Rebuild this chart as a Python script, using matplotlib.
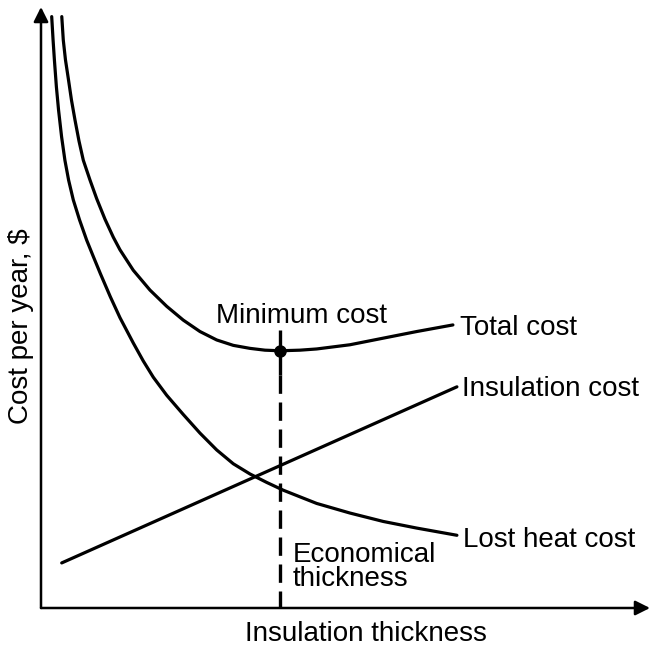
import matplotlib
matplotlib.use("Agg")
import matplotlib.pyplot as plt

plt.rcParams["font.family"] = ["Liberation Sans", "DejaVu Sans"]

# Insulation thickness and cost per year, arbitrary units
lost_heat_x = [1.71, 1.93, 2.14, 2.46, 2.80, 3.29, 3.82, 4.41, 5.16, 6.15, 7.30, 8.35, 9.50,
               11.07, 12.62, 14.74, 16.34, 17.94, 20.08, 22.73, 25.40, 28.07, 30.72, 33.39,
               36.05, 38.71, 41.37, 44.04, 49.36, 54.68, 60.02, 66.45]
lost_heat_y = [98.4, 94.5, 91.2, 86.7, 82.9, 78.4, 74.5, 71.2, 67.9, 64.6, 61.2, 58.5, 55.6,
               51.8, 48.3, 44.1, 41.1, 38.4, 35.4, 32.2, 29.1, 26.3, 24.0, 22.3, 20.9, 19.6,
               18.5, 17.4, 15.8, 14.4, 13.3, 12.1]

total_x = [3.32, 3.56, 3.91, 4.39, 4.87, 5.43, 6.07, 6.76, 7.83, 8.90, 10.22, 11.55, 12.62,
           14.74, 17.41, 20.08, 22.73, 25.40, 28.07, 30.72, 33.39, 35.78, 38.18, 41.37,
           44.04, 49.36, 54.68, 60.02, 65.81]
total_y = [98.4, 94.5, 91.2, 87.9, 84.5, 81.2, 77.7, 74.5, 71.2, 68.1, 64.7, 61.7, 59.6,
           56.2, 52.9, 50.2, 47.9, 46.0, 44.6, 43.7, 43.2, 42.9, 42.8, 42.9, 43.1, 43.8,
           44.9, 46.0, 47.1]

insulation_x = [3.31, 66.45]
insulation_y = [7.5, 36.8]

min_x, min_y = 38.18, 42.8
dash_top = 46.3

W, H = 652, 646
X_END, Y_END = 97.3, 100.0

fig = plt.figure(figsize=(W / 100, H / 100), dpi=100)
ax = fig.add_axes([41 / W, (H - 608) / H, 609 / W, 601 / H])
ax.set_xlim(0, X_END)
ax.set_ylim(0, Y_END)
ax.axis("off")


def fig_xy(px, py):
    return px / W, 1 - py / H


lw = 2.3
style = dict(color="black", lw=lw, solid_capstyle="round", solid_joinstyle="round")
ax.plot(lost_heat_x, lost_heat_y, **style)
ax.plot(total_x, total_y, **style)
ax.plot(insulation_x, insulation_y, **style)

# economical thickness marker
ax.plot([min_x, min_x], [dash_top, min_y - 4], color="black", lw=2.4, solid_capstyle="butt")
ax.plot([min_x, min_x], [min_y - 4, 0], color="black", lw=2.4, linestyle=(0, (5.5, 2.6)))
ax.plot([min_x], [min_y], marker="o", ms=8, color="black")

# axes with arrowheads
arrow = dict(arrowstyle="-|>", lw=1.8, color="black", mutation_scale=22, shrinkA=0, shrinkB=0)
ax.annotate("", xy=(X_END, 0), xytext=(0, 0), arrowprops=arrow, annotation_clip=False)
ax.annotate("", xy=(0, Y_END), xytext=(0, 0), arrowprops=arrow, annotation_clip=False)

fs = 20
fig.text(*fig_xy(302, 323), "Minimum cost", fontsize=fs, ha="center", va="baseline")
fig.text(*fig_xy(460, 335), "Total cost", fontsize=fs, ha="left", va="baseline")
fig.text(*fig_xy(462, 396), "Insulation cost", fontsize=fs, ha="left", va="baseline")
fig.text(*fig_xy(463, 547), "Lost heat cost", fontsize=fs, ha="left", va="baseline")
fig.text(*fig_xy(293, 586), "Economical\nthickness", fontsize=fs, ha="left", va="baseline",
         linespacing=0.88)
fig.text(*fig_xy(366, 641), "Insulation thickness", fontsize=fs, ha="center", va="baseline")
fig.text(*fig_xy(21, 326), "Cost per year, $", fontsize=fs, ha="center", va="center", rotation=90)

fig.savefig("out.png", dpi=100, facecolor="white")
